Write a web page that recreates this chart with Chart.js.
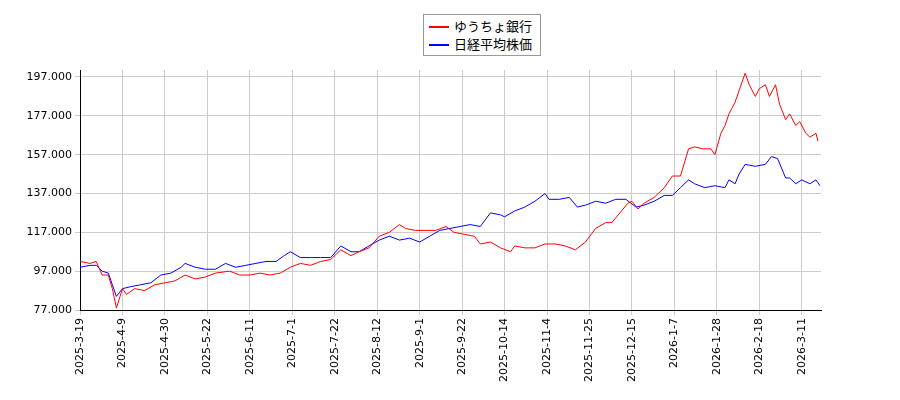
<!DOCTYPE html>
<html><head><meta charset="utf-8">
<script src="https://cdn.jsdelivr.net/npm/chart.js@4"></script>
<style>body{margin:0;background:#fff}#w{position:relative;width:900px;height:400px}
#lg{position:absolute;left:423px;top:14px;width:118px;height:42px;border:1px solid #999;background:#fff;font:13px "Noto Sans CJK JP",sans-serif;box-sizing:border-box;padding:2px 5px;white-space:nowrap}
#lg div{height:18px;line-height:18px}#lg span{display:inline-block;width:20px;height:2px;vertical-align:middle;margin-right:5px}</style>
</head><body><div id="w"><canvas id="c" width="900" height="400"></canvas>
<div id="lg"><div><span style="background:#f00"></span>ゆうちょ銀行</div><div><span style="background:#00f"></span>日経平均株価</div></div></div>
<script>
const tickLabels = ['2025-3-19','2025-4-9','2025-4-30','2025-5-22','2025-6-11','2025-7-1','2025-7-22','2025-8-12','2025-9-1','2025-9-22','2025-10-14','2025-11-4','2025-11-25','2025-12-15','2026-1-7','2026-1-28','2026-2-18','2026-3-11'];
const redDays = [0,5,8,11,14,16,18,21,23,27,32,37,42,47,52,57,62,67,74,79,84,89,94,99,104,109,114,119,124,129,134,138,143,148,153,158,161,166,171,176,181,185,190,195,198,203,208,213,215,220,225,230,235,240,245,250,255,260,263,267,271,273,276,279,284,289,293,297,301,304,308,312,314,317,319,321,324,326,329,331,334,336,339,341,344,346,349,351,354,356,359,361,364,365];
const redVals = [102,101,102,95,95,88,78,88,85,88,87,90,91,92,95,93,94,96,97,95,95,96,95,96,99,101,100,102,103,108,105,107,109,115,117,121,119,118,118,118,120,117,116,115,111,112,109,107,110,109,109,111,111,110,108,112,119,122,122,127,132,133,129,132,135,140,146,146,160,161,160,160,157,168,172,178,184,190,199,193,187,191,193,187,193,183,175,178,172,174,168,166,168,164];
const blueDays = [0,5,8,11,14,16,18,21,25,30,35,40,45,50,52,57,62,67,72,77,82,87,92,97,101,104,109,114,119,124,129,134,138,143,148,153,158,163,168,173,178,183,188,193,198,203,208,210,215,220,225,230,232,237,242,246,250,255,260,265,270,275,279,284,289,293,297,301,304,309,314,319,321,324,326,329,334,339,342,345,349,351,354,357,361,364,366];
const blueVals = [99,100,100,97,96,90,84,88,89,90,91,95,96,99,101,99,98,98,101,99,100,101,102,102,105,107,104,104,104,104,110,107,107,110,113,115,113,114,112,115,118,119,120,121,120,127,126,125,128,130,133,137,134,134,135,130,131,133,132,134,134,130,131,133,136,136,140,144,142,140,141,140,144,142,147,152,151,152,156,155,145,145,142,144,142,144,141];
const yTicks = [77,97,117,137,157,177,197];
const pts=(d,v)=>d.map((x,i)=>({x,y:v[i]}));
const f='"DejaVu Sans",sans-serif';
new Chart(document.getElementById('c'),{type:'line',
data:{datasets:[{data:pts(redDays,redVals),borderColor:'#f00',borderWidth:1,pointRadius:0,tension:0},
{data:pts(blueDays,blueVals),borderColor:'#00f',borderWidth:1,pointRadius:0,tension:0}]},
options:{responsive:false,animation:false,events:[],layout:{padding:{top:70,right:79,left:0,bottom:0}},
plugins:{legend:{display:false},tooltip:{enabled:false}},
scales:{x:{type:'linear',min:0,max:366.5,afterFit:s=>{s.height=90},
afterBuildTicks:s=>{s.ticks=tickLabels.map((t,i)=>({value:i*21}));},
ticks:{autoSkip:false,maxRotation:90,minRotation:90,color:'#000',font:{size:11,family:f},callback:v=>tickLabels[Math.round(v/21)]},
grid:{color:'#ccc',drawTicks:true,tickLength:5},border:{color:'#000'}},
y:{min:77,max:200.6,afterFit:s=>{s.width=80},afterBuildTicks:s=>{s.ticks=yTicks.map(v=>({value:v}))},
ticks:{color:'#000',font:{size:11,family:f},callback:v=>v.toFixed(3)},grid:{color:'#ccc',tickLength:5},border:{color:'#000'}}}}});
</script></body></html>
